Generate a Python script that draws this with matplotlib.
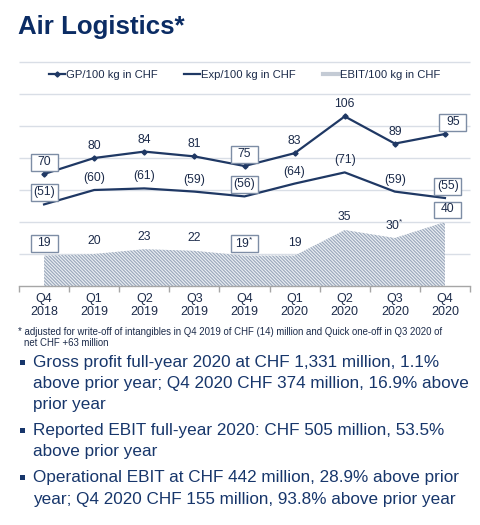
import matplotlib
matplotlib.use("Agg")
import matplotlib.pyplot as plt
import matplotlib.transforms as mtransforms
from matplotlib.patches import Rectangle
from matplotlib.lines import Line2D
import numpy as np

# ---------------- data ----------------
quarters = ["Q4\n2018", "Q1\n2019", "Q2\n2019", "Q3\n2019", "Q4\n2019",
            "Q1\n2020", "Q2\n2020", "Q3\n2020", "Q4\n2020"]
gp_per_100kg = [70, 80, 84, 81, 75, 83, 106, 89, 95]
exp_per_100kg = [51, 60, 61, 59, 56, 64, 71, 59, 55]
ebit_per_100kg = [19, 20, 23, 22, 19, 19, 35, 30, 40]
ebit_adjusted = [False, False, False, False, True, False, False, True, False]
boxed_points = [0, 4, 8]

title = "Air Logistics*"
legend_labels = ["GP/100 kg in CHF", "Exp/100 kg in CHF", "EBIT/100 kg in CHF"]
footnote_lines = ["* adjusted for write-off of intangibles in Q4 2019 of CHF (14) million "
                  "and Quick one-off in Q3 2020 of",
                  "net CHF +63 million"]
bullets = [
    ["Gross profit full-year 2020 at CHF 1,331 million, 1.1%",
     "above prior year; Q4 2020 CHF 374 million, 16.9% above",
     "prior year"],
    ["Reported EBIT full-year 2020: CHF 505 million, 53.5%",
     "above prior year"],
    ["Operational EBIT at CHF 442 million, 28.9% above prior",
     "year; Q4 2020 CHF 155 million, 93.8% above prior year"],
]

# ---------------- style ----------------
plt.rcParams["font.family"] = ["Liberation Sans", "DejaVu Sans"]
plt.rcParams["mathtext.fontset"] = "custom"
plt.rcParams["mathtext.rm"] = "Liberation Sans"
plt.rcParams["hatch.linewidth"] = 0.9

NAVY = "#1f3864"
TITLE_C = "#0b2c64"
TXT = "#1c2b4a"
BULLET_C = "#17366b"
GRID = "#d9dee6"
AXIS = "#a6a6a6"
BOX = "#7d8da5"
HATCH = "#9eabbd"

W, H = 480, 525
fig = plt.figure(figsize=(W / 100, H / 100), dpi=100)
fig.patch.set_facecolor("white")


def fx(px):
    return px / W


def fy(py):
    return 1 - py / H


ax_l, ax_r, ax_t, ax_b = 19, 470, 62, 286
ax = fig.add_axes([fx(ax_l), fy(ax_b), (ax_r - ax_l) / W, (ax_b - ax_t) / H])
ax.set_facecolor("none")
x = np.arange(len(quarters))
ax.set_xlim(-0.5, len(quarters) - 0.5)
ax.set_ylim(0, 140)

# gridlines
ax.hlines(np.arange(20, 141, 20), -0.5, len(quarters) - 0.5, colors=GRID,
          linewidth=1.0, zorder=0.5, clip_on=False)

# EBIT area
ax.fill_between(x, 0, ebit_per_100kg, facecolor="#eef1f5", edgecolor=HATCH,
                hatch="\\" * 10, linewidth=0, zorder=1)

# lines
ax.plot(x, gp_per_100kg, color=NAVY, lw=1.6, marker="D", ms=2.6, zorder=3)
ax.plot(x, exp_per_100kg, color=NAVY, lw=1.6, zorder=3)

# axes styling
for s in ["left", "right", "top"]:
    ax.spines[s].set_visible(False)
ax.spines["bottom"].set_color(AXIS)
ax.spines["bottom"].set_linewidth(1.0)
ax.set_yticks([])
ax.set_xticks(x)
ax.set_xticklabels(quarters, fontsize=9, color=TXT, linespacing=1.15)
ax.set_xticks(np.arange(-0.5, len(quarters), 1), minor=True)
ax.tick_params(axis="x", which="major", length=0, pad=5)
ax.tick_params(axis="x", which="minor", length=4, color=AXIS, width=1)


def add_label(xi, yv, text, boxed, dx=0.0, dy=12.0):
    ax.annotate(text, (xi, yv), xytext=(dx * 0.72, dy * 0.72),
                textcoords="offset points", ha="center", va="center",
                fontsize=8.7, color=TXT, zorder=6)
    if boxed:
        trans = (mtransforms.Affine2D().translate(dx, dy)
                 + mtransforms.ScaledTranslation(xi, yv, ax.transData))
        r = Rectangle((-13.5, -8.5), 27, 16.5, transform=trans,
                      facecolor="white", edgecolor=BOX, linewidth=1.0,
                      zorder=5, clip_on=False)
        ax.add_artist(r)


last = len(quarters) - 1
for i in x:
    b = i in boxed_points
    add_label(i, gp_per_100kg[i], f"{gp_per_100kg[i]}", b,
              dx=8 if i == last else 0)
    add_label(i, exp_per_100kg[i], f"({exp_per_100kg[i]})", b,
              dx=3 if i == last else 0)
    t = f"{ebit_per_100kg[i]}" + ("$^{*}$" if ebit_adjusted[i] else "")
    add_label(i, ebit_per_100kg[i], t, b, dx=3 if i == last else 0, dy=12.5)

# legend
handles = [Line2D([], [], color=NAVY, lw=1.6, marker="D", ms=2.6),
           Line2D([], [], color=NAVY, lw=1.6),
           Line2D([], [], color="#c4cbd5", lw=3.0)]
ax.legend(handles, legend_labels, loc="center", bbox_to_anchor=(4, 132),
          bbox_transform=ax.transData, ncol=3, frameon=False, fontsize=8.1,
          handlelength=1.4, handletextpad=0.1, columnspacing=2.4,
          labelcolor=TXT)

# title
fig.text(fx(18), fy(34), title, fontsize=18.6, fontweight="bold", color=TITLE_C,
         va="baseline", ha="left")

# footnote
fig.text(fx(18), fy(332), footnote_lines[0], fontsize=6.9, color=TXT, va="center")
fig.text(fx(24), fy(343), footnote_lines[1], fontsize=6.9, color=TXT, va="center")

# bullets
y = 362.0
for lines in bullets:
    fig.patches.append(Rectangle((fx(20), fy(y + 2.5)), 5 / W, 5 / H,
                                 transform=fig.transFigure, facecolor=BULLET_C,
                                 edgecolor="none"))
    for ln in lines:
        fig.text(fx(33), fy(y), ln, fontsize=12.3, color=BULLET_C, va="center",
                 ha="left")
        y += 21.3
    y += 4.7

fig.savefig("out.png", dpi=100, facecolor="white")
